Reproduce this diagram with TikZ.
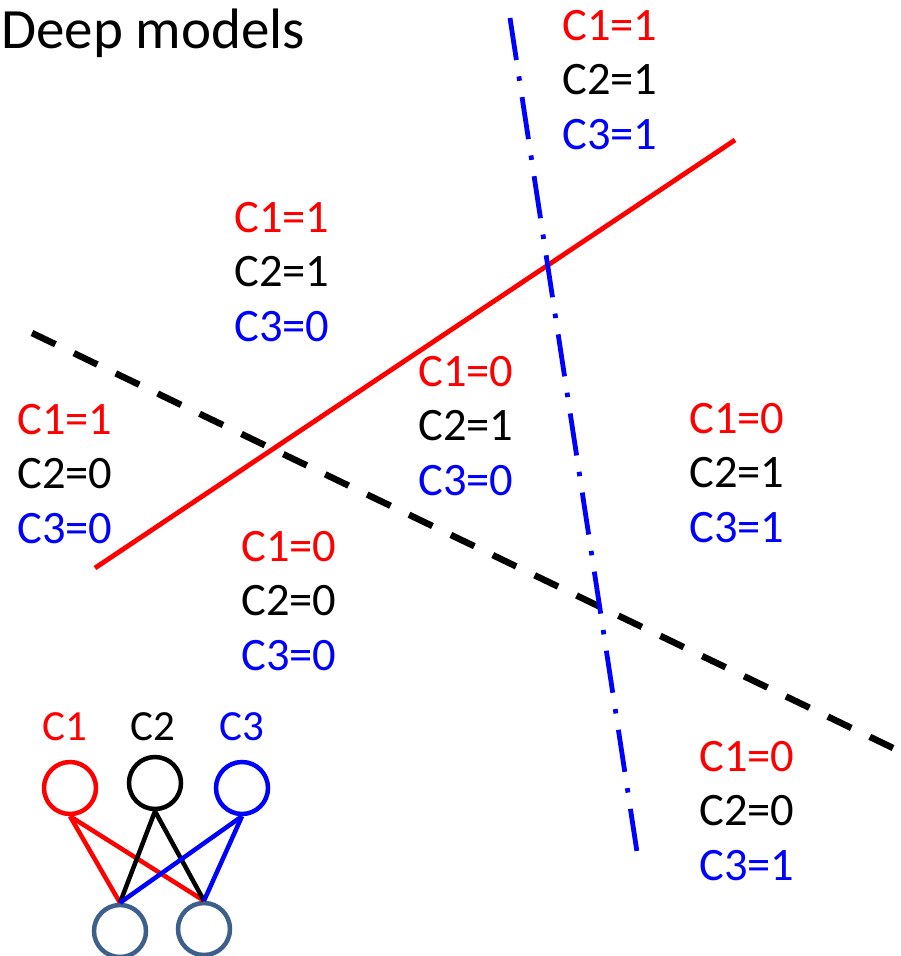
\documentclass[tikz,border=0pt]{standalone}
\usepackage{fontspec}
\setmainfont{Carlito}
\definecolor{hid}{RGB}{60,95,140}
\begin{document}
\begin{tikzpicture}[x=1pt,y=-1pt,
  lab/.style={inner sep=0pt,align=left,font=\fontsize{46.5}{54.5}\selectfont},
  unit/.style={circle,draw,line width=4.5pt,minimum size=52pt,inner sep=0pt},
  edge/.style={line width=4.5pt},
  ttl/.style={inner sep=0pt,font=\fontsize{43}{50}\selectfont}]
\useasboundingbox (0,0) rectangle (901,956);
\node[inner sep=0pt,anchor=west,font=\fontsize{57}{62}\selectfont] (title) at (1,33) {Deep models};
% separating lines
\coordinate (r1) at (95,568); \coordinate (r2) at (735,140);
\coordinate (k1) at (32,333); \coordinate (k2) at (893,748);
\coordinate (b1) at (510,18); \coordinate (b2) at (637,852);
\draw[red,line width=4.8pt] (r1) -- (r2);
\draw[black,line width=6.5pt,dash pattern=on 26pt off 20.5pt] (k1) -- (k2);
\draw[blue,line width=4.8pt,dash pattern=on 42.5pt off 16.5pt on 4.5pt off 16.5pt] (b1) -- (b2);
% region labels
\node[lab] (g1) at (610,80) {\textcolor{red}{C1=1}\\C2=1\\\textcolor{blue}{C3=1}};
\node[lab] (g2) at (282,272) {\textcolor{red}{C1=1}\\C2=1\\\textcolor{blue}{C3=0}};
\node[lab] (g3) at (65,474) {\textcolor{red}{C1=1}\\C2=0\\\textcolor{blue}{C3=0}};
\node[lab] (g4) at (466,426) {\textcolor{red}{C1=0}\\C2=1\\\textcolor{blue}{C3=0}};
\node[lab] (g5) at (737,473) {\textcolor{red}{C1=0}\\C2=1\\\textcolor{blue}{C3=1}};
\node[lab] (g6) at (289,601) {\textcolor{red}{C1=0}\\C2=0\\\textcolor{blue}{C3=0}};
\node[lab] (g7) at (747,811) {\textcolor{red}{C1=0}\\C2=0\\\textcolor{blue}{C3=1}};
% network
\node[ttl,red] (t1) at (65,727) {C1};
\node[ttl] (t2) at (153,727) {C2};
\node[ttl,blue] (t3) at (242,727) {C3};
\node[unit,red] (c1) at (70,788) {};
\node[unit,black] (c2) at (155,783) {};
\node[unit,blue] (c3) at (242,788) {};
\node[unit,hid] (h1) at (120,931) {};
\node[unit,hid] (h2) at (204,929) {};
\draw[edge,red] (c1.south) -- (h1.north);
\draw[edge,red] (c1.south) -- (h2.north);
\draw[edge,black] (c2.south) -- (h1.north);
\draw[edge,black] (c2.south) -- (h2.north);
\draw[edge,blue] (c3.south) -- (h1.north);
\draw[edge,blue] (c3.south) -- (h2.north);
\end{tikzpicture}
\end{document}
